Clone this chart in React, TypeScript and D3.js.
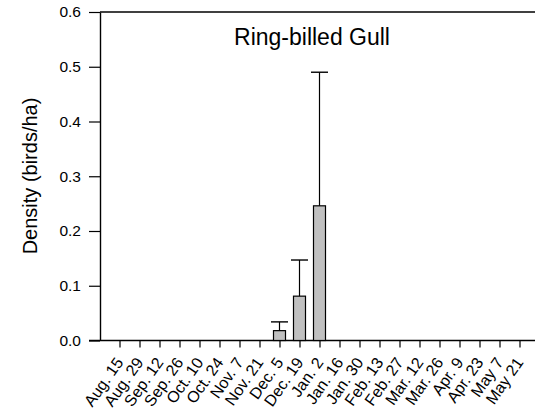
import React, { useEffect, useRef } from 'react';
import * as d3 from 'd3';

const dates = [
  'Aug. 15', 'Aug. 29', 'Sep. 12', 'Sep. 26', 'Oct. 10', 'Oct. 24', 'Nov. 7',
  'Nov. 21', 'Dec. 5', 'Dec. 19', 'Jan. 2', 'Jan. 16', 'Jan. 30', 'Feb. 13',
  'Feb. 27', 'Mar. 12', 'Mar. 26', 'Apr. 9', 'Apr. 23', 'May 7', 'May 21',
];
const density = [0, 0, 0, 0, 0, 0, 0, 0, 0.018, 0.081, 0.246, 0, 0, 0, 0, 0, 0, 0, 0, 0, 0];
const upperError = [0, 0, 0, 0, 0, 0, 0, 0, 0.034, 0.147, 0.49, 0, 0, 0, 0, 0, 0, 0, 0, 0, 0];
const yTicks = [0, 0.1, 0.2, 0.3, 0.4, 0.5, 0.6];

const W = 535;
const H = 417;

export default function App() {
  const svgRef = useRef<SVGSVGElement>(null);

  useEffect(() => {
    if (!svgRef.current) return;
    const svg = d3.select(svgRef.current);
    svg.selectAll('*').remove();

    const left = 100, top = 12, bottom = 340.5, right = 535;
    const font = '"Liberation Sans", Arial, sans-serif';

    const x = d3.scalePoint<string>().domain(dates).range([119.5, 519.5]);
    const y = d3.scaleLinear().domain([0, 0.6]).range([bottom, top]);
    const barW = 12;

    // top frame line
    svg.append('line')
      .attr('x1', left).attr('x2', right)
      .attr('y1', top).attr('y2', top)
      .attr('stroke', '#000').attr('stroke-width', 1.4);

    // y axis
    const yAxis = svg.append('g')
      .attr('transform', `translate(${left},0)`)
      .call(d3.axisLeft(y).tickValues(yTicks).tickFormat(d3.format('.1f')).tickSize(11).tickSizeOuter(0));
    yAxis.select('.domain').attr('stroke-width', 1.4);
    yAxis.selectAll('line').attr('stroke-width', 1.2);
    yAxis.selectAll('text')
      .attr('x', -19)
      .style('font-family', font)
      .style('font-size', '15.5px')
      .style('fill', '#000');

    // x axis
    const xAxis = svg.append('g')
      .attr('transform', `translate(0,${bottom})`)
      .call(d3.axisBottom(x).tickSize(7).tickSizeOuter(0));
    xAxis.select('.domain').attr('d', `M${left - 11},0H${right}`).attr('stroke-width', 1.4);
    xAxis.selectAll('line').attr('stroke-width', 1.2);
    xAxis.selectAll('text')
      .attr('y', 0)
      .attr('dy', 0)
      .attr('transform', 'translate(4,22) rotate(-55)')
      .style('text-anchor', 'end')
      .style('font-family', font)
      .style('font-size', '16px')
      .style('fill', '#000');

    // bars
    const idx = d3.range(dates.length).filter(i => density[i] > 0);
    svg.selectAll('.bar')
      .data(idx)
      .join('rect')
      .attr('class', 'bar')
      .attr('x', i => (x(dates[i]) ?? 0) - barW / 2)
      .attr('y', i => y(density[i]))
      .attr('width', barW)
      .attr('height', i => bottom - y(density[i]))
      .attr('fill', '#c0c0c0')
      .attr('stroke', '#000')
      .attr('stroke-width', 1.2);

    // error bars
    const eb = svg.selectAll('.err').data(idx).join('g').attr('class', 'err');
    eb.append('line')
      .attr('x1', i => x(dates[i]) ?? 0).attr('x2', i => x(dates[i]) ?? 0)
      .attr('y1', i => y(density[i])).attr('y2', i => y(upperError[i]))
      .attr('stroke', '#000').attr('stroke-width', 1.2);
    eb.append('line')
      .attr('x1', i => (x(dates[i]) ?? 0) - 8.5).attr('x2', i => (x(dates[i]) ?? 0) + 8.5)
      .attr('y1', i => y(upperError[i])).attr('y2', i => y(upperError[i]))
      .attr('stroke', '#000').attr('stroke-width', 1.4);

    // title
    svg.append('text')
      .attr('x', 312).attr('y', 45)
      .attr('text-anchor', 'middle')
      .style('font-family', font)
      .style('font-size', '23px')
      .text('Ring-billed Gull');

    // y label
    svg.append('text')
      .attr('transform', `translate(37,176) rotate(-90)`)
      .attr('text-anchor', 'middle')
      .style('font-family', font)
      .style('font-size', '20px')
      .text('Density (birds/ha)');
  }, []);

  return (
    <svg
      ref={svgRef}
      width={W}
      height={H}
      style={{ position: 'absolute', left: 0, top: 0, background: '#fff' }}
    />
  );
}
